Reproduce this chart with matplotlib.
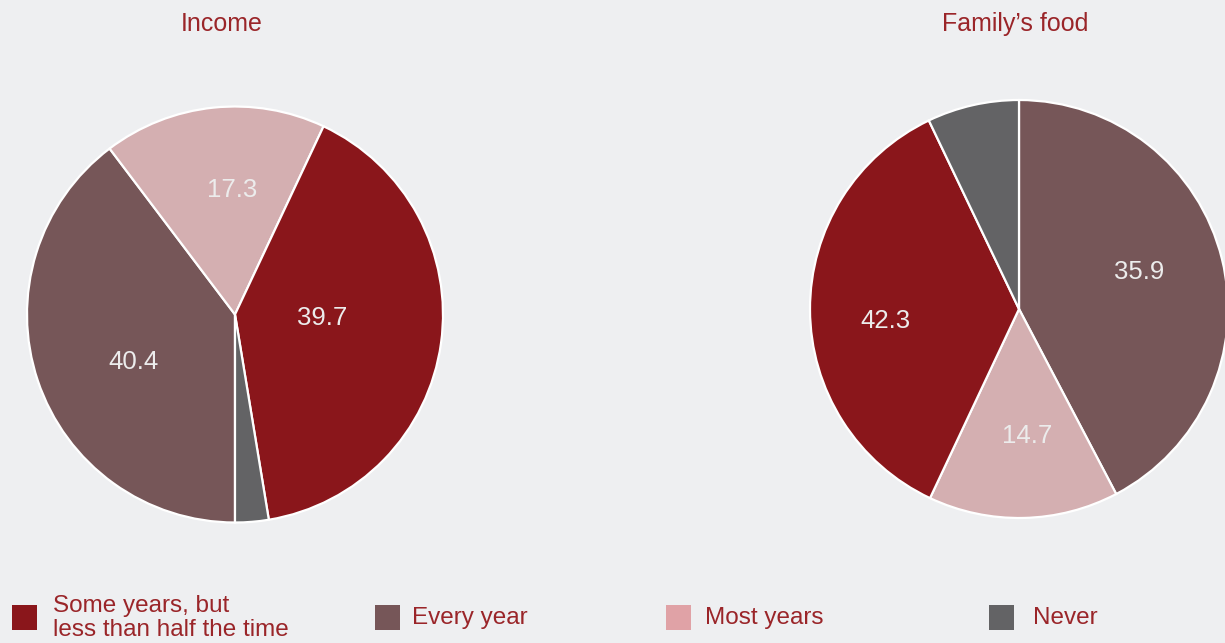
import matplotlib
matplotlib.use("Agg")
import matplotlib.pyplot as plt
from matplotlib.patches import Rectangle
import numpy as np

# ---- data (legend order) ----
categories = ["Some years, but\nless than half the time", "Every year", "Most years", "Never"]
# wedge sizes as drawn in the picture
income_values = [40.4, 39.7, 17.3, 2.6]
food_values = [35.9, 42.3, 14.7, 7.1]
# numbers as printed on the wedges
income_labels = ["39.7", "40.4", "17.3", ""]
food_labels = ["42.3", "35.9", "14.7", ""]
titles = ["Income", "Family\u2019s food"]

# ---- style ----
W, H = 1225, 643
BG = "#EEEFF1"
TXT = "#9A2529"
colors = ["#8A161B", "#765658", "#D4AFB1", "#636365"]
legend_colors = ["#8A161B", "#765658", "#E0A2A6", "#636365"]
pie_order = [1, 2, 0, 3]  # clockwise drawing order
FONT = ["Liberation Sans", "DejaVu Sans"]
plt.rcParams["font.family"] = FONT

fig = plt.figure(figsize=(W / 100, H / 100), dpi=100, facecolor=BG)


def px_axes(cx, cy, r):
    return fig.add_axes([(cx - r) / W, (H - cy - r) / H, 2 * r / W, 2 * r / H])


def draw_pie(ax, values, labels, startangle, lab_r, lab_off):
    vals = [values[i] for i in pie_order]
    cols = [colors[i] for i in pie_order]
    wedges, _ = ax.pie(vals, colors=cols, startangle=startangle, counterclock=False,
                       radius=1.0, normalize=True,
                       wedgeprops=dict(edgecolor="white", linewidth=1.6))
    ax.set_xlim(-1, 1)
    ax.set_ylim(-1, 1)
    ax.set_aspect("equal")
    ax.axis("off")
    for w, i in zip(wedges, pie_order):
        if not labels[i]:
            continue
        mid = np.deg2rad((w.theta1 + w.theta2) / 2 + lab_off[i])
        ax.text(lab_r[i] * np.cos(mid), lab_r[i] * np.sin(mid), labels[i],
                ha="center", va="center", color="#ECECEC", fontsize=18.5)


ax1 = px_axes(235, 314.5, 208)
draw_pie(ax1, income_values, income_labels, -90,
         lab_r=[0.42, 0.54, 0.60, 0.5], lab_off=[5.9, 6.65, -4.55, 0])
ax2 = px_axes(1019, 309, 209)
draw_pie(ax2, food_values, food_labels, 90,
         lab_r=[0.64, 0.60, 0.61, 0.5], lab_off=[5.0, 3.4, 2.4, 0])

fig.text(222 / W, 1 - 24 / H, titles[0], ha="center", va="center", color=TXT, fontsize=18)
fig.text(1015 / W, 1 - 24 / H, titles[1], ha="center", va="center", color=TXT, fontsize=18)

# legend
sq_x = [12, 375, 666, 989]
tx_x = [53, 412, 705, 1033]
for c, sx, tx, lab in zip(legend_colors, sq_x, tx_x, categories):
    fig.add_artist(Rectangle((sx / W, 1 - 630 / H), 25 / W, 25 / H,
                             transform=fig.transFigure, facecolor=c, edgecolor="none"))
    fig.text(tx / W, 1 - 618 / H, lab, ha="left", va="center", color=TXT,
             fontsize=17.5, linespacing=1.08)

fig.savefig("out.png", dpi=100, facecolor=BG)
